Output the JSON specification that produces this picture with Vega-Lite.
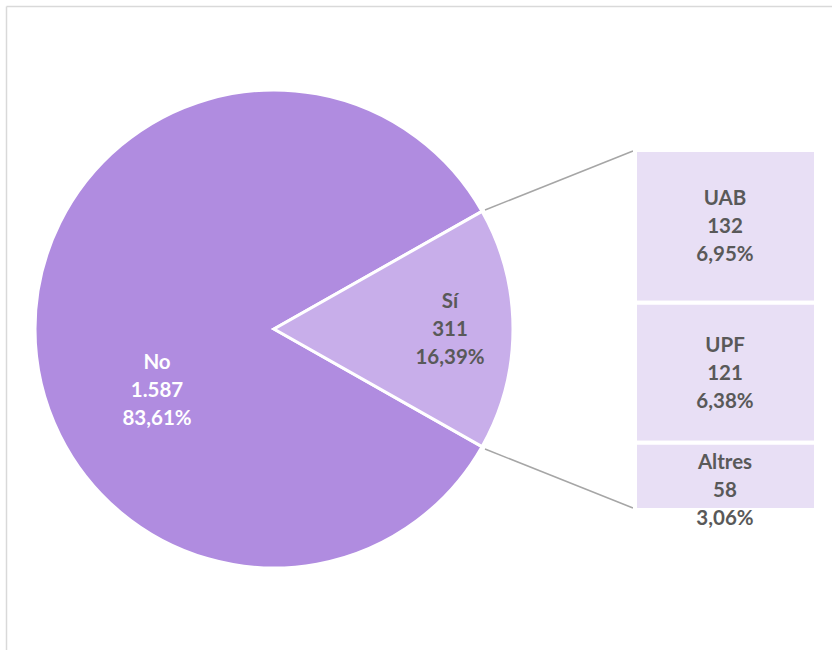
{
  "$schema": "https://vega.github.io/schema/vega-lite/v6.json",
  "width": 826,
  "height": 644,
  "autosize": "none",
  "padding": {"left": 6, "top": 6, "right": 0, "bottom": 0},
  "background": "white",
  "config": {
    "view": {"stroke": null},
    "locale": {"number": {"decimal": ",", "thousands": ".", "grouping": [3], "currency": ["", " €"]}}
  },
  "layer": [
    {
      "data": {"values": [{}]},
      "mark": {"type": "rule", "color": "#A6A6A6", "strokeWidth": 1.5},
      "encoding": {
        "x": {"datum": 479, "type": "quantitative", "scale": {"domain": [0, 826], "nice": false, "zero": false}, "axis": {"orient": "top", "domain": true, "domainColor": "#D9D9D9", "domainWidth": 1.5, "ticks": false, "labels": false, "grid": false, "title": null}},
        "x2": {"datum": 627},
        "y": {"datum": 204, "type": "quantitative", "scale": {"domain": [0, 644], "reverse": true, "nice": false, "zero": false}, "axis": {"orient": "left", "domain": true, "domainColor": "#D9D9D9", "domainWidth": 1.5, "ticks": false, "labels": false, "grid": false, "title": null}},
        "y2": {"datum": 145}
      }
    },
    {
      "data": {"values": [{}]},
      "mark": {"type": "rule", "color": "#A6A6A6", "strokeWidth": 1.5},
      "encoding": {
        "x": {"datum": 479, "type": "quantitative", "scale": {"domain": [0, 826], "nice": false, "zero": false}},
        "x2": {"datum": 627},
        "y": {"datum": 443, "type": "quantitative", "scale": {"domain": [0, 644], "reverse": true, "nice": false, "zero": false}, "axis": null},
        "y2": {"datum": 502}
      }
    },
    {
      "data": {"values": [
        {"level": "total", "cat": "No", "value": 1587},
        {"level": "total", "cat": "Sí", "value": 311},
        {"level": "Sí", "cat": "UAB", "value": 132},
        {"level": "Sí", "cat": "UPF", "value": 121},
        {"level": "Sí", "cat": "Altres", "value": 58}
      ]},
      "transform": [
        {"calculate": "datum.level == 'total' ? datum.value : 0", "as": "mainv"},
        {"joinaggregate": [{"op": "sum", "field": "mainv", "as": "total"}]},
        {"calculate": "datum.cat + '\\n' + format(datum.value, ',') + '\\n' + format(datum.value / datum.total, '.2%')", "as": "label"}
      ],
      "layer": [
        {
          "transform": [{"filter": "datum.level == 'total'"}],
          "mark": {"type": "arc", "outerRadius": 239, "stroke": "white", "strokeWidth": 3},
          "encoding": {
            "theta": {"field": "value", "type": "quantitative", "stack": true, "scale": {"range": [1.056, 7.3392]}},
            "order": {"field": "cat", "sort": "descending"},
            "color": {"field": "cat", "type": "nominal", "scale": {"domain": ["No", "Sí"], "range": ["#B08CE0", "#C8AEEA"]}, "legend": null},
            "x": {"datum": 268, "type": "quantitative", "scale": {"domain": [0, 826], "nice": false, "zero": false}},
            "y": {"datum": 323, "type": "quantitative", "scale": {"domain": [0, 644], "reverse": true, "nice": false, "zero": false}, "axis": null}
          }
        },
        {
          "transform": [{"filter": "datum.cat == 'No'"}],
          "mark": {"type": "text", "font": "Lato", "fontWeight": "bold", "fontSize": 20.5, "lineHeight": 28, "lineBreak": "\n", "align": "center", "baseline": "middle", "color": "white", "dy": -28},
          "encoding": {
            "text": {"field": "label"},
            "x": {"datum": 151, "type": "quantitative", "scale": {"domain": [0, 826], "nice": false, "zero": false}},
            "y": {"datum": 385, "type": "quantitative", "scale": {"domain": [0, 644], "reverse": true, "nice": false, "zero": false}, "axis": null}
          }
        },
        {
          "transform": [{"filter": "datum.cat == 'Sí'"}],
          "mark": {"type": "text", "font": "Lato", "fontWeight": "bold", "fontSize": 20.5, "lineHeight": 28, "lineBreak": "\n", "align": "center", "baseline": "middle", "color": "#595959", "dy": -28},
          "encoding": {
            "text": {"field": "label"},
            "x": {"datum": 444, "type": "quantitative", "scale": {"domain": [0, 826], "nice": false, "zero": false}},
            "y": {"datum": 324, "type": "quantitative", "scale": {"domain": [0, 644], "reverse": true, "nice": false, "zero": false}, "axis": null}
          }
        },
        {
          "transform": [
            {"filter": "datum.level == 'Sí'"},
            {"window": [{"op": "row_number", "as": "rn"}]},
            {"window": [{"op": "sum", "field": "value", "as": "cum"}], "sort": [{"field": "rn", "order": "descending"}], "frame": [null, 0]},
            {"calculate": "datum.cum - datum.value", "as": "lo"},
            {"calculate": "datum.cum - datum.value / 2", "as": "mid"}
          ],
          "layer": [
            {
              "mark": {"type": "rect", "color": "#E8DFF5", "stroke": "white", "strokeWidth": 4},
              "encoding": {
                "x": {"datum": 629, "type": "quantitative", "scale": {"domain": [0, 826], "nice": false, "zero": false}},
                "x2": {"datum": 810},
                "y": {"field": "lo", "type": "quantitative", "scale": {"domain": [0, 311], "range": [504, 144], "nice": false, "zero": false}, "axis": null},
                "y2": {"field": "cum"}
              }
            },
            {
              "transform": [{"filter": "datum.cat != 'Altres'"}],
              "mark": {"type": "text", "font": "Lato", "fontWeight": "bold", "fontSize": 20.5, "lineHeight": 28, "lineBreak": "\n", "align": "center", "baseline": "middle", "color": "#595959", "dy": -27},
              "encoding": {
                "text": {"field": "label"},
                "x": {"datum": 719, "type": "quantitative", "scale": {"domain": [0, 826], "nice": false, "zero": false}},
                "y": {"field": "mid", "type": "quantitative", "scale": {"domain": [0, 311], "range": [504, 144], "nice": false, "zero": false}, "axis": null}
              }
            },
            {
              "transform": [{"filter": "datum.cat == 'Altres'"}],
              "mark": {"type": "text", "font": "Lato", "fontWeight": "bold", "fontSize": 20.5, "lineHeight": 28, "lineBreak": "\n", "align": "center", "baseline": "middle", "color": "#595959", "dy": -13},
              "encoding": {
                "text": {"field": "label"},
                "x": {"datum": 719, "type": "quantitative", "scale": {"domain": [0, 826], "nice": false, "zero": false}},
                "y": {"field": "mid", "type": "quantitative", "scale": {"domain": [0, 311], "range": [504, 144], "nice": false, "zero": false}, "axis": null}
              }
            }
          ]
        }
      ],
      "resolve": {"scale": {"y": "independent"}}
    }
  ],
  "resolve": {"scale": {"y": "independent"}}
}
